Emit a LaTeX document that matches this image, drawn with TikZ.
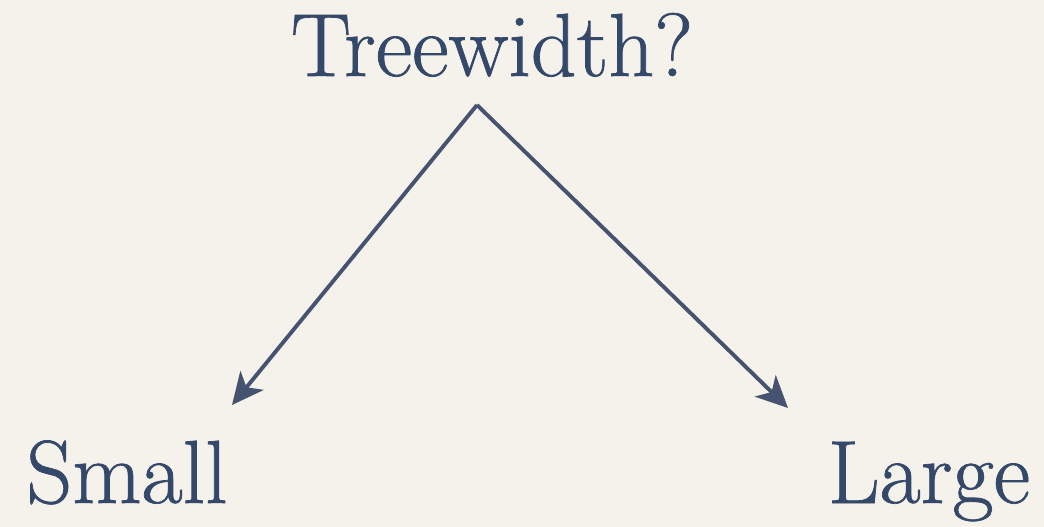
\documentclass[tikz,border=0pt]{standalone}
\usepackage{fontspec}
\newfontfamily\heavylm{Latin Modern Roman}[FakeBold=0.8]
\usetikzlibrary{arrows.meta}
\definecolor{bg}{HTML}{F5F1EB}
\definecolor{ink}{HTML}{34486A}
\definecolor{arrowink}{HTML}{455370}
\begin{document}
\begin{tikzpicture}[x=0.01cm,y=-0.01cm,
  lbl/.style={text=ink,font=\heavylm\fontsize{25.5}{30}\selectfont,inner sep=0pt,anchor=base},
  conn/.style={draw=arrowink,line width=1.1pt,-{Stealth[length=9pt,width=8.5pt,inset=2.5pt]}}]
\fill[bg] (0,0) rectangle (1044,527);
\useasboundingbox (0,0) rectangle (1044,527);
\node[lbl] (top) at (492,76) {Treewidth?};
\node[lbl] (small) at (127,503) {Small};
\node[lbl] (large) at (929,503) {Large};
\coordinate (apex) at (477,105);
\coordinate (ltip) at (232,405);
\coordinate (rtip) at (788,408);
\draw[conn] (apex) -- (ltip);
\draw[conn] (apex) -- (rtip);
\end{tikzpicture}
\end{document}
